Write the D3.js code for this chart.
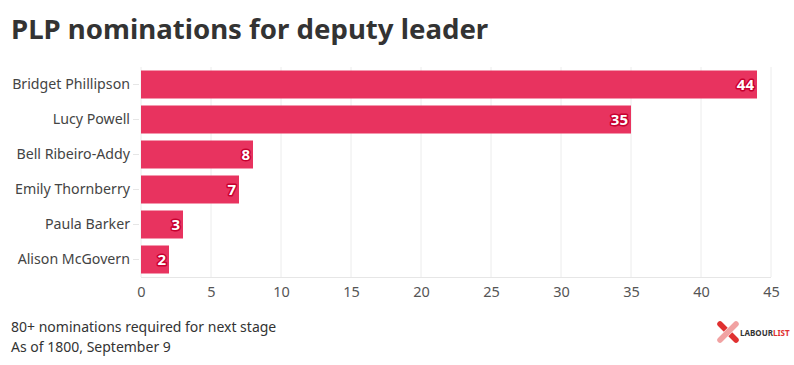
<!DOCTYPE html>
<html><head><meta charset="utf-8">
<script src="https://cdn.jsdelivr.net/npm/d3@7"></script>
<style>
body{margin:0;background:#fff;}
svg{display:block;font-family:"Noto Sans",sans-serif;}
</style></head>
<body><svg id="c" width="794" height="365"></svg>
<script>
const categories = ["Bridget Phillipson","Lucy Powell","Bell Ribeiro-Addy","Emily Thornberry","Paula Barker","Alison McGovern"];
const values = [44,35,8,7,3,2];
const xTicks = [0,5,10,15,20,25,30,35,40,45];
const title = "PLP nominations for deputy leader";
const notes = ["80+ nominations required for next stage","As of 1800, September 9"];

const svg = d3.select("#c");
const m = {l:141, r:771, t:67, b:277};
const x = d3.scaleLinear().domain([0,45]).range([m.l,m.r]);
const y = d3.scaleBand().domain(categories).range([m.t,m.b]).paddingInner(0.2).paddingOuter(0.1);

svg.append("text").attr("x",11).attr("y",39).attr("font-size",27.6).attr("font-weight",700)
  .attr("fill","#333").text(title);

// grid
svg.append("g").selectAll("line").data(xTicks).join("line")
  .attr("x1",d=>x(d)).attr("x2",d=>x(d)).attr("y1",m.t).attr("y2",m.b)
  .attr("stroke","#ececec").attr("stroke-width",1);
svg.append("line").attr("x1",m.l).attr("x2",m.r).attr("y1",m.b+0.5).attr("y2",m.b+0.5).attr("stroke","#e6e6e6");

// x axis
const xa = svg.append("g").attr("transform",`translate(0,${m.b})`)
  .call(d3.axisBottom(x).tickValues(xTicks).tickSize(0).tickPadding(10));
xa.select(".domain").remove();
xa.selectAll("text").attr("font-size",14.5).attr("fill","#555").attr("font-family","Noto Sans");

// y axis
const ya = svg.append("g").attr("transform",`translate(${m.l-2},0)`)
  .call(d3.axisLeft(y).tickSize(6).tickPadding(3));
ya.select(".domain").remove();
ya.selectAll("line").attr("stroke","#e6e6e6");
ya.selectAll("text").attr("font-size",14.2).attr("fill","#444").attr("font-family","Noto Sans");

// bars
svg.append("g").selectAll("rect").data(values).join("rect")
  .attr("x",x(0)).attr("y",(d,i)=>y(categories[i]))
  .attr("width",d=>x(d)-x(0)).attr("height",y.bandwidth())
  .attr("fill","#e8335f");

// value labels
svg.append("g").selectAll("text").data(values).join("text")
  .attr("x",d=>x(d)-3).attr("y",(d,i)=>y(categories[i])+y.bandwidth()/2)
  .attr("dy","0.36em").attr("text-anchor","end").attr("font-size",15).attr("font-weight",700)
  .attr("fill","#fff").attr("stroke","#c8002f").attr("stroke-width",3).attr("paint-order","stroke")
  .attr("stroke-linejoin","round").text(d=>d);

// notes
svg.append("g").selectAll("text").data(notes).join("text")
  .attr("x",11).attr("y",(d,i)=>332+i*20).attr("font-size",14).attr("fill","#333").text(d=>d);

// logo
const lg = svg.append("g").attr("transform","translate(717,321)");
lg.append("line").attr("x1",3).attr("y1",3).attr("x2",19).attr("y2",19).attr("stroke","#e03030").attr("stroke-width",5.5).attr("stroke-linecap","round");
lg.append("line").attr("x1",19).attr("y1",3).attr("x2",3).attr("y2",19).attr("stroke","#fff").attr("stroke-width",6.5).attr("stroke-linecap","round");
lg.append("line").attr("x1",19).attr("y1",3).attr("x2",3).attr("y2",19).attr("stroke","#e03030").attr("stroke-width",5.5).attr("stroke-linecap","round").attr("stroke-opacity",0.45);
const lt = lg.append("text").attr("x",23).attr("y",15).attr("font-size",8).attr("font-weight",700);
lt.append("tspan").attr("fill","#333").text("LABOUR");
lt.append("tspan").attr("fill","#e03030").text("LIST");
</script></body></html>
